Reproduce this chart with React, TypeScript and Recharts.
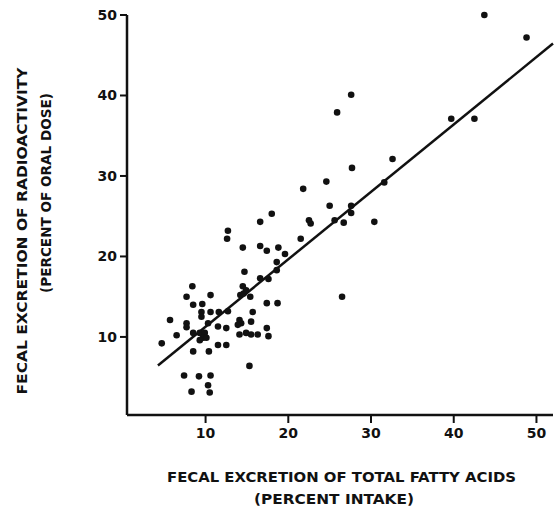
import React from 'react';
import { ScatterChart, Scatter, XAxis, YAxis, ReferenceLine } from 'recharts';

// Fecal excretion of total fatty acids (percent intake)
const fattyAcids = [
  4.7, 5.7, 6.5, 7.7, 8.4, 8.5, 9.6, 10.6, 9.5, 9.5, 10.6, 11.6, 12.7, 7.7, 7.7, 10.3, 11.5, 12.5,
  8.5, 9.3, 9.9, 9.7, 9.3, 10.1, 11.5, 12.5, 8.5, 10.4, 7.4, 9.2, 10.6, 10.3, 8.3, 10.5,
  12.7, 12.6, 14.2, 14.6, 15.4, 14.5, 14.9, 14.7, 14.5, 14.1, 14.3, 13.9, 15.5, 14.1, 14.9, 15.5,
  16.3, 17.6, 15.7, 17.4, 18.7, 17.4, 15.3, 16.6, 17.6, 18.6, 18.6, 16.6, 17.4, 18.8, 19.6, 16.6,
  18.0, 21.5, 22.5, 22.7, 21.8, 24.6, 25.0, 25.6, 26.7, 27.6, 27.6, 27.7, 25.9, 27.6, 26.5, 30.4,
  31.6, 32.6, 39.7, 42.5, 43.7, 48.8,
];
// Fecal excretion of radioactivity (percent of oral dose)
const radioactivity = [
  9.2, 12.1, 10.2, 15.0, 16.3, 14.0, 14.1, 15.2, 13.1, 12.5, 13.1, 13.1, 13.2, 11.7, 11.2, 11.7, 11.3, 11.1,
  10.5, 10.5, 10.5, 9.9, 9.6, 9.9, 9.0, 9.0, 8.2, 8.2, 5.2, 5.1, 5.2, 4.0, 3.2, 3.1,
  23.2, 22.2, 15.2, 15.4, 15.0, 16.3, 15.8, 18.1, 21.1, 12.1, 11.7, 11.5, 11.9, 10.3, 10.5, 10.3,
  10.3, 10.1, 13.1, 14.2, 14.2, 11.1, 6.4, 17.3, 17.2, 19.3, 18.3, 21.3, 20.7, 21.1, 20.3, 24.3,
  25.3, 22.2, 24.5, 24.1, 28.4, 29.3, 26.3, 24.5, 24.2, 26.3, 25.4, 31.0, 37.9, 40.1, 15.0, 24.3,
  29.2, 32.1, 37.1, 37.1, 50.0, 47.2,
];

const xTicks = [10, 20, 30, 40, 50];
const yTicks = [10, 20, 30, 40, 50];

// regression line: y = intercept + slope * x
const fitIntercept = 2.9;
const fitSlope = 0.8375;
const fitRange = [4.24, 52];

const points = fattyAcids.map((x, i) => ({ x, y: radioactivity[i] }));
const fitSegment = fitRange.map((x) => ({ x, y: fitIntercept + fitSlope * x }));

const FONT = '"DejaVu Sans", "Liberation Sans", Arial, sans-serif';
const INK = '#111';

const Dot = (props: any) => <circle cx={props.cx} cy={props.cy} r={3.3} fill={INK} />;

const XTick = (props: any) => (
  <text x={props.x} y={props.y} dy={13} textAnchor="middle" fontFamily={FONT} fontWeight="bold" fontSize={14} fill={INK}>
    {props.payload.value}
  </text>
);

const YTick = (props: any) => (
  <text x={props.x} y={props.y} dy={5} textAnchor="end" fontFamily={FONT} fontWeight="bold" fontSize={14} fill={INK}>
    {props.payload.value}
  </text>
);

const XTitle = () => (
  <g fontFamily={FONT} fontWeight="bold" fontSize={14} fill={INK}>
    <text x={341.5} y={477} dy="0.36em" textAnchor="middle" textLength={349} lengthAdjust="spacingAndGlyphs">
      FECAL EXCRETION OF TOTAL FATTY ACIDS
    </text>
    <text x={334} y={499} dy="0.36em" textAnchor="middle" textLength={160} lengthAdjust="spacingAndGlyphs">
      (PERCENT INTAKE)
    </text>
  </g>
);

const YTitle = () => (
  <g fontFamily={FONT} fontWeight="bold" fontSize={13.5} fill={INK}>
    <text x={22} y={231} dy="0.36em" textAnchor="middle" transform="rotate(-90 22 231)" textLength={327} lengthAdjust="spacingAndGlyphs">
      FECAL EXCRETION OF RADIOACTIVITY
    </text>
    <text x={46} y={193} dy="0.36em" textAnchor="middle" transform="rotate(-90 46 193)" textLength={200} lengthAdjust="spacingAndGlyphs">
      (PERCENT OF ORAL DOSE)
    </text>
  </g>
);

export default function App() {
  return (
    <div style={{ position: 'absolute', left: 0, top: 0, width: 555, height: 512, background: '#fff' }}>
      <ScatterChart width={555} height={512} margin={{ top: 15, right: 2, left: 0, bottom: 0 }}>
        <XAxis
          type="number"
          dataKey="x"
          domain={[0.5, 52]}
          ticks={xTicks}
          height={97}
          tickSize={8}
          tickMargin={2}
          tick={<XTick />}
          axisLine={{ stroke: INK, strokeWidth: 2.5 }}
          tickLine={{ stroke: INK, strokeWidth: 2 }}
          label={<XTitle />}
        />
        <YAxis
          type="number"
          dataKey="y"
          domain={[0.3, 50]}
          ticks={yTicks}
          width={127}
          tickSize={7}
          tickMargin={3}
          tick={<YTick />}
          axisLine={{ stroke: INK, strokeWidth: 2.5 }}
          tickLine={{ stroke: INK, strokeWidth: 2 }}
          label={<YTitle />}
        />
        <ReferenceLine
          segment={fitSegment}
          stroke={INK}
          strokeWidth={2.5}
          ifOverflow="visible"
        />
        <Scatter data={points} shape={<Dot />} isAnimationActive={false} />
      </ScatterChart>
    </div>
  );
}
